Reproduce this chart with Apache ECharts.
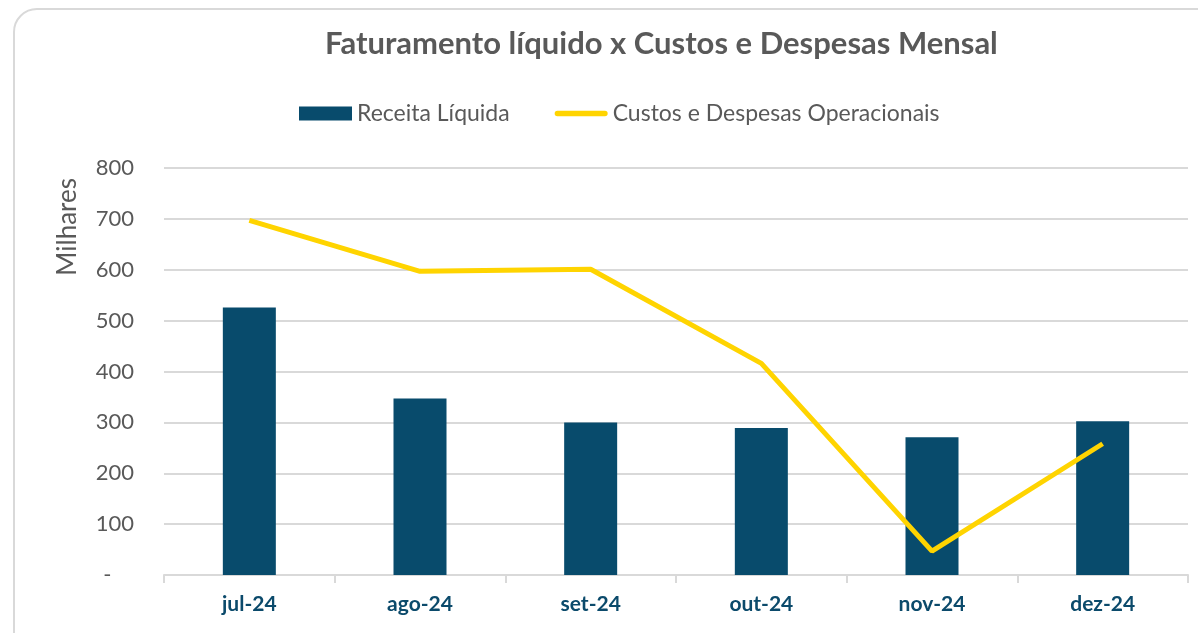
<!DOCTYPE html>
<html>
<head>
<meta charset="utf-8">
<script src="https://cdn.jsdelivr.net/npm/echarts@6/dist/echarts.min.js"></script>
<style>
  html, body { margin: 0; padding: 0; background: #fff; overflow: hidden; }
  #frame {
    position: absolute; left: 13px; top: 8px; width: 1220px; height: 660px;
    border: 2px solid #d9d9d9; border-radius: 24px; box-sizing: border-box;
  }
  #main { position: absolute; left: 0; top: 0; width: 1198px; height: 633px; }
</style>
</head>
<body>
<div id="frame"></div>
<div id="main"></div>
<script>
var meses = ['jul-24', 'ago-24', 'set-24', 'out-24', 'nov-24', 'dez-24'];
var receitaLiquida = [526, 347, 300, 289, 271, 302];
var custosDespesas = [697, 597, 601, 416, 47, 258];

var chart = echarts.init(document.getElementById('main'));
var fonte = 'Lato, "Open Sans", sans-serif';

var option = {
    animation: false,
    title: {
        text: 'Faturamento líquido x Custos e Despesas Mensal',
        left: 320,
        top: 23,
        textStyle: { fontFamily: fonte, fontSize: 31, fontWeight: 'bold', color: '#595959' }
    },
    legend: {
        left: 294,
        top: 97,
        itemWidth: 53,
        itemHeight: 14,
        itemGap: 45,
        textStyle: { fontFamily: fonte, fontSize: 23, color: '#595959' },
        data: [
            { name: 'Receita Líquida', icon: 'rect' },
            { name: 'Custos e Despesas Operacionais', icon: 'path://M3,0 H56 A3,3 0 0 1 56,6 H3 A3,3 0 0 1 3,0 Z' }
        ]
    },
    graphic: [{
        type: 'text',
        left: 55,
        top: 178,
        rotation: Math.PI / 2,
        style: { text: 'Milhares', fontFamily: fonte, fontSize: 26, fill: '#595959' }
    }],
    grid: { left: 164, right: 10, top: 168, bottom: 58 },
    xAxis: {
        type: 'category',
        data: meses,
        axisLine: { lineStyle: { color: '#d9d9d9', width: 2 } },
        axisTick: { show: true, length: 8, lineStyle: { color: '#d9d9d9', width: 2 } },
        axisLabel: { margin: 19, fontFamily: fonte, fontSize: 21, fontWeight: 'bold', color: '#0b4a6b' }
    },
    yAxis: {
        type: 'value',
        min: 0,
        max: 800,
        interval: 100,
        axisLine: { show: false },
        axisTick: { show: false },
        splitLine: { lineStyle: { color: '#d9d9d9', width: 2 } },
        axisLabel: {
            margin: 30,
            fontFamily: fonte,
            fontSize: 22,
            color: '#595959',
            formatter: function (v) { return v === 0 ? '-    ' : v; }
        }
    },
    series: [
        {
            name: 'Receita Líquida',
            type: 'bar',
            data: receitaLiquida,
            barWidth: 53,
            itemStyle: { color: '#084b6c' }
        },
        {
            name: 'Custos e Despesas Operacionais',
            type: 'line',
            data: custosDespesas,
            symbol: 'none',
            lineStyle: { color: '#ffd400', width: 5 },
            itemStyle: { color: '#ffd400' }
        }
    ]
};

chart.setOption(option);
</script>
</body>
</html>
